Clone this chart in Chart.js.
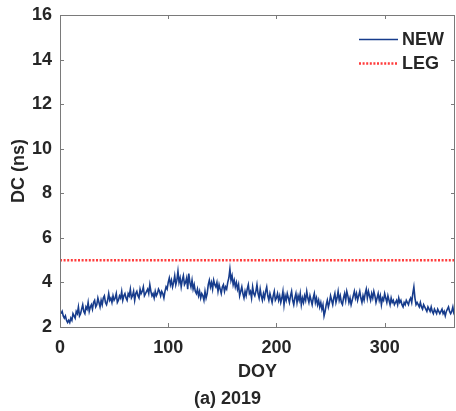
<!DOCTYPE html>
<html lang="en">
<head>
  <meta charset="UTF-8" />
  <title>DC (ns) - 2019</title>
  <style>
    body { margin: 0; background: #fff; }
    #chartBox { width: 456px; height: 411px; position: relative; }
  </style>
</head>
<body>
  <div id="chartBox"><canvas id="dcChart"></canvas></div>

  <script src="https://cdn.jsdelivr.net/npm/chart.js"></script>
  <script>
    // values, one per day of year
    const newDC = [
      2.6, 2.7, 2.5, 2.4, 2.5, 2.3, 2.2, 2.3, 2.2, 2.4,
      2.3, 2.6, 2.5, 2.4, 2.7, 2.6, 2.9, 2.5, 2.6, 2.8,
      3.0, 2.7, 2.6, 2.9, 2.8, 3.1, 2.7, 2.9, 3.0, 2.8,
      3.1, 3.2, 2.9, 3.0, 3.3, 3.1, 2.9, 3.2, 3.0, 3.3,
      3.4, 3.1, 3.0, 3.2, 3.5, 3.2, 3.3, 3.1, 3.4, 3.2,
      3.3, 3.5, 3.1, 3.2, 3.4, 3.3, 3.6, 3.2, 3.4, 3.5,
      3.3, 3.2, 3.5, 3.4, 3.7, 3.3, 3.4, 3.6, 3.2, 3.5,
      3.6, 3.4, 3.3, 3.7, 3.5, 3.6, 3.8, 3.4, 3.5, 3.6,
      3.7, 3.5, 3.9, 3.6, 3.4, 3.5, 3.3, 3.6, 3.4, 3.5,
      3.7, 3.6, 3.4, 3.6, 3.5, 3.3, 3.6, 3.8, 3.7, 4.0,
      4.2, 3.9, 4.1, 3.8, 4.0, 4.3, 3.9, 4.1, 4.5, 4.0,
      4.2, 3.8, 4.1, 4.3, 3.9, 4.0, 4.2, 3.7, 4.4, 4.0,
      3.8, 4.1, 3.7, 3.9, 3.6, 3.5, 3.7, 3.4, 3.6, 3.3,
      3.5, 3.4, 3.2, 3.6, 3.3, 3.5, 3.9, 4.1, 3.8, 4.0,
      3.7, 4.1, 3.9, 3.8, 4.0, 3.6, 3.9, 3.7, 3.5, 3.8,
      3.9, 3.6, 3.8, 3.7, 4.0, 4.2, 4.6, 4.1, 4.3, 3.9,
      4.1, 3.8, 4.0, 3.7, 3.9, 3.4, 3.6, 3.8, 3.5, 3.3,
      3.6, 3.4, 3.7, 3.9, 3.5, 3.6, 3.3, 3.8, 3.5, 3.4,
      3.6, 3.9, 3.5, 3.3, 3.7, 3.4, 3.2, 3.5, 3.3, 3.6,
      3.8, 3.4, 3.2, 3.5, 3.3, 3.1, 3.4, 3.6, 3.2, 3.3,
      3.5, 3.2, 3.4, 3.1, 3.3, 3.6, 3.0, 3.4, 3.2, 3.5,
      3.3, 3.1, 3.4, 3.6, 3.2, 3.0, 3.3, 3.5, 3.1, 3.4,
      3.2, 3.5, 3.0, 3.3, 3.1, 3.4, 3.2, 3.6, 3.3, 3.1,
      3.4, 3.2, 3.0, 3.3, 3.5, 3.1, 3.3, 3.0, 3.2, 2.9,
      3.1, 2.8, 3.0, 2.5, 2.7, 3.0, 3.2, 2.9, 3.1, 3.4,
      3.2, 3.0, 3.3, 3.5, 3.1, 3.3, 3.6, 3.2, 3.4, 3.1,
      3.0, 3.3, 3.5, 3.2, 3.6, 3.4, 3.1, 3.3, 3.0, 3.2,
      3.4, 3.6, 3.3, 3.5, 3.2, 3.4, 3.6, 3.3, 3.1, 3.4,
      3.2, 3.5, 3.7, 3.3, 3.6, 3.4, 3.2, 3.5, 3.3, 3.6,
      3.4, 3.1, 3.3, 3.5, 3.2, 3.4, 3.0, 3.3, 3.2, 3.5,
      3.3, 3.1, 3.4, 3.2, 3.0, 3.3, 3.1, 3.2, 3.0, 3.1,
      3.2, 3.0, 3.3, 3.1, 3.2, 3.0, 2.9, 3.1, 3.0, 3.2,
      3.1, 3.0, 3.2, 3.3, 3.1, 3.5, 3.8, 3.3, 3.0, 3.1,
      3.0, 2.9, 3.1, 2.9, 2.8, 3.0, 2.9, 2.8, 2.7, 2.9,
      2.8, 2.7, 2.9, 2.7, 2.6, 2.8, 2.7, 2.6, 2.8, 2.7,
      2.6, 2.7, 2.8, 2.6, 2.7, 2.5, 2.7, 2.8, 2.9, 2.7,
      2.6, 2.7, 2.9, 2.6, 2.5
    ];
    const doy = newDC.map((v, i) => i + 1);

    const legDays = [0, 365];
    const legDC = [5, 5];

    const seriesNames = ['NEW', 'LEG'];
    const xTicks = [0, 100, 200, 300];
    const yTicks = [2, 4, 6, 8, 10, 12, 14, 16];

    const TEXT = '#262626';
    const FONT = 'Liberation Sans, Arial, sans-serif';

    // MATLAB style box with inward ticks on every side
    const boxPlugin = {
      id: 'boxPlugin',
      afterDatasetsDraw(chart) {
        const { ctx, chartArea: a, scales } = chart;
        const len = 4;
        ctx.save();
        ctx.strokeStyle = '#7a7a7a';
        ctx.lineWidth = 1;
        ctx.strokeRect(Math.round(a.left) + 0.5, Math.round(a.top) + 0.5,
          Math.round(a.right - a.left) - 1, Math.round(a.bottom - a.top));
        ctx.beginPath();
        xTicks.forEach(v => {
          const px = Math.round(scales.x.getPixelForValue(v)) + 0.5;
          ctx.moveTo(px, a.bottom); ctx.lineTo(px, a.bottom - len);
          ctx.moveTo(px, a.top); ctx.lineTo(px, a.top + len);
        });
        yTicks.forEach(v => {
          const py = Math.round(scales.y.getPixelForValue(v)) + 0.5;
          ctx.moveTo(a.left, py); ctx.lineTo(a.left + len, py);
          ctx.moveTo(a.right, py); ctx.lineTo(a.right - len, py);
        });
        ctx.stroke();
        ctx.restore();
      }
    };

    // legend drawn inside the plot, top right
    const legendPlugin = {
      id: 'insideLegend',
      afterDraw(chart) {
        const { ctx, chartArea: a } = chart;
        const x0 = a.right - 96, x1 = a.right - 57;
        ctx.save();
        ctx.font = 'bold 18px ' + FONT;
        ctx.fillStyle = TEXT;
        ctx.textBaseline = 'middle';
        chart.data.datasets.forEach((ds, i) => {
          const y = a.top + 24.5 + i * 24;
          ctx.beginPath();
          ctx.strokeStyle = ds.borderColor;
          ctx.lineWidth = ds.borderWidth;
          ctx.setLineDash(ds.borderDash || []);
          ctx.moveTo(x0, y); ctx.lineTo(x1, y);
          ctx.stroke();
          ctx.setLineDash([]);
          ctx.fillText(ds.label, x1 + 4, y + 1);
        });
        ctx.restore();
      }
    };

    new Chart(document.getElementById('dcChart'), {
      type: 'line',
      data: {
        datasets: [
          {
            label: seriesNames[0],
            data: doy.map((d, i) => ({ x: d, y: newDC[i] })),
            borderColor: '#173c8c',
            borderWidth: 1.6,
            pointRadius: 0,
            tension: 0
          },
          {
            label: seriesNames[1],
            data: legDays.map((d, i) => ({ x: d, y: legDC[i] })),
            borderColor: '#ff3b3b',
            borderWidth: 2.5,
            borderDash: [2, 1.6],
            pointRadius: 0
          }
        ]
      },
      options: {
        responsive: true,
        maintainAspectRatio: false,
        animation: false,
        layout: { padding: { top: 15, right: 1, left: 0, bottom: 1.4 } },
        plugins: {
          legend: { display: false },
          tooltip: { enabled: false },
          title: {
            display: true,
            position: 'bottom',
            text: '(a) 2019',
            color: TEXT,
            font: { family: FONT, size: 18, weight: 'bold' },
            padding: { top: 3, bottom: 0 }
          }
        },
        scales: {
          x: {
            type: 'linear',
            min: 0,
            max: 365,
            grid: { display: false },
            border: { display: false },
            afterBuildTicks: s => { s.ticks = xTicks.map(v => ({ value: v })); },
            afterFit: s => { s.height = 58; },
            ticks: {
              color: TEXT,
              padding: 2,
              maxRotation: 0,
              font: { family: FONT, size: 18, weight: 'bold' }
            },
            title: {
              display: true,
              text: 'DOY',
              color: TEXT,
              font: { family: FONT, size: 18, weight: 'bold' },
              padding: { top: 0, bottom: 2 }
            }
          },
          y: {
            min: 2,
            max: 16,
            grid: { display: false },
            border: { display: false },
            afterBuildTicks: s => { s.ticks = yTicks.map(v => ({ value: v })); },
            afterFit: s => { s.width = 60; },
            ticks: {
              color: TEXT,
              padding: 0,
              font: { family: FONT, size: 18, weight: 'bold' }
            },
            title: {
              display: true,
              text: 'DC (ns)',
              color: TEXT,
              font: { family: FONT, size: 18, weight: 'bold' },
              padding: { top: 8, bottom: 0 }
            }
          }
        }
      },
      plugins: [boxPlugin, legendPlugin]
    });
  </script>
</body>
</html>
